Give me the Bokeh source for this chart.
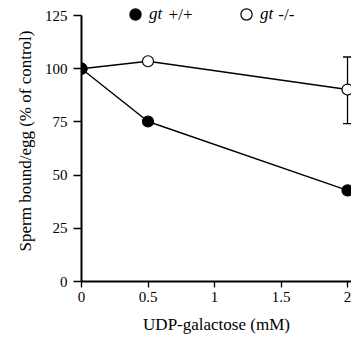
from bokeh.plotting import figure
from bokeh.models import ColumnDataSource, Whisker, TeeHead, Legend, LegendItem, FixedTicker, Range1d, Label
from bokeh.embed import file_html
from bokeh.resources import INLINE

conc = [0, 0.5, 2]
wt = [100, 75.2, 42.8]
ko = [100, 103.5, 90.2]
ko_err_lower = [None, None, 74.2]
ko_err_upper = [None, None, 105.5]
x_ticks = [0, 0.5, 1, 1.5, 2]
x_tick_labels = ["0", "0.5", "1", "1.5", "2"]
y_ticks = [0, 25, 50, 75, 100, 125]
legend_genes = ["gt", "gt"]
legend_genotypes = ["+/+", "-/-"]

FONT = "Liberation Serif"

p = figure(width=351, height=341, output_backend="svg", toolbar_location=None,
           x_range=Range1d(0, 2.03), y_range=Range1d(0, 132.05),
           min_border_left=81, min_border_right=0, min_border_top=0, min_border_bottom=60)
p.outline_line_color = None
p.xgrid.visible = False
p.ygrid.visible = False

err_src = ColumnDataSource(dict(x=[conc[2]], lower=[ko_err_lower[2]], upper=[ko_err_upper[2]]))
p.add_layout(Whisker(source=err_src, base="x", lower="lower", upper="upper",
                     line_color="black", line_width=1.3,
                     lower_head=TeeHead(size=9, line_color="black", line_width=1.3),
                     upper_head=TeeHead(size=9, line_color="black", line_width=1.3)))

p.line(conc, wt, line_color="black", line_width=1.4)
p.line(conc, ko, line_color="black", line_width=1.4)
r_ko = p.scatter(conc, ko, size=11, fill_color="white", line_color="black", line_width=1.2)
r_wt = p.scatter(conc, wt, size=11, fill_color="black", line_color="black", line_width=1.2)

legend = Legend(items=[LegendItem(label=legend_genes[0], renderers=[r_wt]),
                       LegendItem(label=legend_genes[1], renderers=[r_ko])],
                orientation="horizontal", location=(40, 253),
                glyph_width=28, glyph_height=28, label_standoff=0, spacing=63,
                padding=0, margin=0, background_fill_alpha=0, border_line_alpha=0,
                label_text_font=FONT, label_text_font_style="italic",
                label_text_color="black",
                label_text_font_size="17px", label_height=28)
p.add_layout(legend)
for xpos, txt in zip([0.655, 1.48], legend_genotypes):
    p.add_layout(Label(x=xpos, y=125.5, text=txt, text_font=FONT, text_font_size="17px",
                       text_color="black", text_baseline="middle", text_align="left"))

p.xaxis.ticker = FixedTicker(ticks=x_ticks)
p.xaxis.major_label_overrides = {t: l for t, l in zip(x_ticks, x_tick_labels)}
p.yaxis.ticker = FixedTicker(ticks=y_ticks)
p.yaxis.bounds = (0, 125)
for ax in (p.xaxis[0], p.yaxis[0]):
    ax.axis_line_color = "black"
    ax.axis_line_width = 2
    ax.major_tick_line_color = "black"
    ax.major_tick_line_width = 1.3
    ax.minor_tick_line_color = None
    ax.major_tick_in = 0
    ax.major_label_text_font = FONT
    ax.major_label_text_font_size = "15px"
    ax.major_label_text_color = "black"
    ax.axis_label_text_font = FONT
    ax.axis_label_text_font_size = "17px"
    ax.axis_label_text_font_style = "normal"
    ax.axis_label_text_color = "black"
p.xaxis.major_tick_out = 6
p.yaxis.major_tick_out = 8
p.xaxis.major_label_standoff = 4
p.yaxis.major_label_standoff = 6
p.xaxis.axis_label = "UDP-galactose (mM)"
p.yaxis.axis_label = "Sperm bound/egg (% of control)"
p.xaxis.axis_label_standoff = 10
p.yaxis.axis_label_standoff = 7

open("out.html", "w").write(file_html(p, INLINE))
